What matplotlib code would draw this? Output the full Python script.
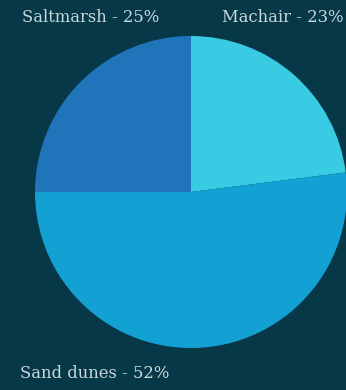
import matplotlib
matplotlib.use("Agg")
import matplotlib.pyplot as plt

labels = ["Machair", "Sand dunes", "Saltmarsh"]
shares = [23, 52, 25]
colors = ["#39cbe4", "#13a0d2", "#1f74ba"]
bg = "#063847"
text_color = "#c9d9dc"

W, H = 346, 390
fig = plt.figure(figsize=(W / 100, H / 100), dpi=100)
fig.patch.set_facecolor(bg)

cx, cy, r = 191, 192, 156
ax = fig.add_axes([(cx - r) / W, (H - cy - r) / H, 2 * r / W, 2 * r / H])
ax.set_facecolor(bg)
wedges, _ = ax.pie(shares, colors=colors, startangle=90, counterclock=False,
                   radius=1, wedgeprops=dict(linewidth=0))
for w in wedges:
    w.set_clip_on(False)
ax.set_xlim(-1, 1)
ax.set_ylim(-1, 1)
ax.set_aspect("equal")
ax.axis("off")

font = dict(family=["DejaVu Serif"], size=11.8, color=text_color)
fig.text(22 / W, 1 - 18 / H, f"{labels[2]} - {shares[2]}%", ha="left", va="center", **font)
fig.text(344 / W, 1 - 18 / H, f"{labels[0]} - {shares[0]}%", ha="right", va="center", **font)
fig.text(20 / W, 1 - 373 / H, f"{labels[1]} - {shares[1]}%", ha="left", va="center", **font)

fig.savefig("out.png", dpi=100, facecolor=bg)
